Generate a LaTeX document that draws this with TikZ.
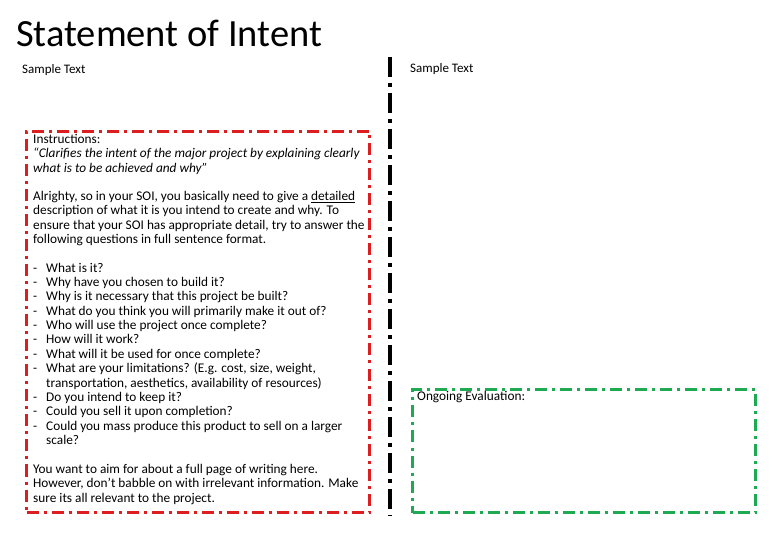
\documentclass[tikz,border=0pt]{standalone}
\usepackage{fontspec}
\setmainfont{Carlito}
\begin{document}
\begin{tikzpicture}[x=1pt,y=-1pt,
  txt/.style={anchor=north west,inner sep=0pt,align=left,font=\fontsize{13.3}{14.35}\selectfont},
  redbox/.style={draw={rgb,255:red,220;green,30;blue,30},line width=3pt,dash pattern=on 12pt off 5pt on 3pt off 5pt},
  greenbox/.style={draw={rgb,255:red,30;green,170;blue,80},line width=3pt,dash pattern=on 12pt off 5pt on 3pt off 5pt},
  divider/.style={draw=black,line width=3.5pt,dash pattern=on 20pt off 6pt on 4pt off 6pt}]
\useasboundingbox (0,0) rectangle (780,540);
\node[anchor=west,inner sep=0pt,font=\fontsize{38.5}{42}\selectfont] (title) at (16,33) {Statement of Intent};
\node[anchor=west,inner sep=0pt,font=\fontsize{13}{14}\selectfont] (st1) at (22,70) {Sample Text};
\node[anchor=west,inner sep=0pt,font=\fontsize{13}{14}\selectfont] (st2) at (410,69) {Sample Text};
\coordinate (dtop) at (390,57);
\coordinate (dbot) at (390,516);
\draw[divider] (dtop) -- (dbot);
\node[redbox,anchor=north west,minimum width=343pt,minimum height=381pt,inner sep=0pt] (red) at (25,130) {};
\node[greenbox,anchor=north west,minimum width=343pt,minimum height=123pt,inner sep=0pt] (green) at (411,388) {};
\node[txt] (ins) at (33,134) {Instructions:\\\textit{“Clarifies the intent of the major project by explaining clearly}\\\textit{what is to be achieved and why”}};
\node[txt] (p1) at (33,191) {Alrighty, so in your SOI, you basically need to give a \underline{detailed}\\description of what it is you intend to create and why. To\\ensure that your SOI has appropriate detail, try to answer the\\following questions in full sentence format.};
\node[txt] (dashes) at (33,262) {-\strut\\-\strut\\-\strut\\-\strut\\-\strut\\-\strut\\-\strut\\-\strut\\\strut\\-\strut\\-\strut\\-\strut};
\node[txt] (list) at (46,262) {What is it?\strut\\Why have you chosen to build it?\strut\\Why is it necessary that this project be built?\strut\\What do you think you will primarily make it out of?\strut\\Who will use the project once complete?\strut\\How will it work?\strut\\What will it be used for once complete?\strut\\What are your limitations? (E.g. cost, size, weight,\strut\\transportation, aesthetics, availability of resources)\strut\\Do you intend to keep it?\strut\\Could you sell it upon completion?\strut\\Could you mass produce this product to sell on a larger\strut\\scale?\strut};
\node[txt] (p2) at (33,464) {You want to aim for about a full page of writing here.\\However, don't babble on with irrelevant information. Make\\sure its all relevant to the project.};
\node[txt] (oe) at (417,391) {Ongoing Evaluation:};
\end{tikzpicture}
\end{document}
